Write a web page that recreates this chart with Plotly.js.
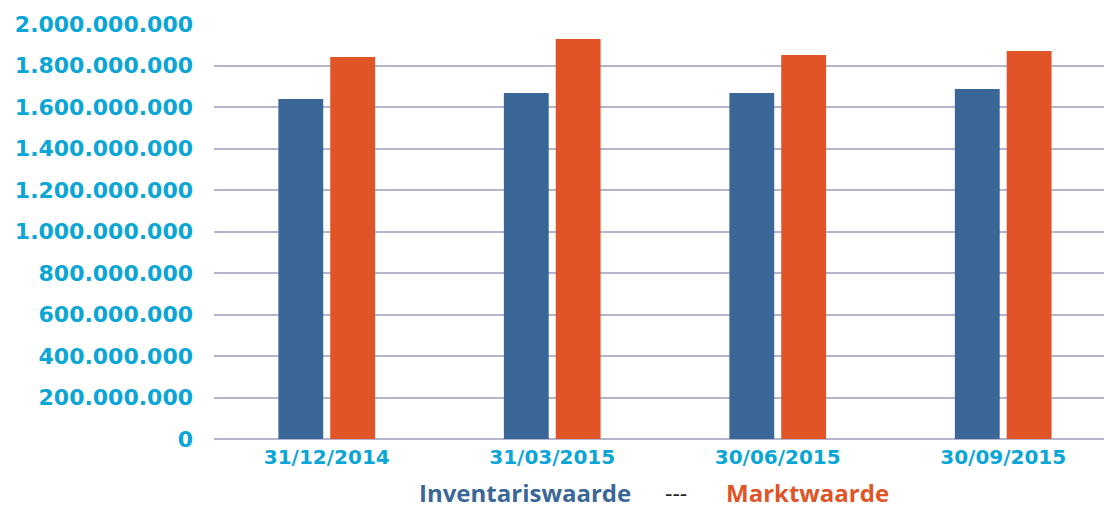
<!DOCTYPE html>
<html>
<head>
<meta charset="utf-8">
<script src="https://cdn.plot.ly/plotly-3.0.1.min.js"></script>
<style>
html,body{margin:0;padding:0;background:#fff;}
#chart{width:1104px;height:510px;}
</style>
</head>
<body>
<div id="chart"></div>
<script>
const categories = ["31/12/2014", "31/03/2015", "30/06/2015", "30/09/2015"];
const inventariswaarde = [1638000000, 1667000000, 1667000000, 1687000000];
const marktwaarde = [1841000000, 1928000000, 1851000000, 1870000000];
const seriesNames = ["Inventariswaarde", "Marktwaarde"];
const legendSeparator = "---";

const blue = "#3b6698";
const orange = "#e05427";
const tickColor = "#0ba6d6";
const gridColor = "#b4b4cc";

const traces = [
  {type: "bar", name: seriesNames[0], x: categories, y: inventariswaarde,
   marker: {color: blue}, hoverinfo: "none"},
  {type: "bar", name: seriesNames[1], x: categories, y: marktwaarde,
   marker: {color: orange}, hoverinfo: "none"}
];

const legendFont = {family: "Open Sans", size: 24, weight: "bold"};
const legendY = -0.1705;

const layout = {
  width: 1104, height: 510,
  margin: {l: 214, r: 0, t: 24, b: 71, pad: 0},
  paper_bgcolor: "#ffffff", plot_bgcolor: "#ffffff",
  separators: ",.",
  showlegend: false,
  barmode: "group",
  bargap: 0.54,
  bargroupgap: 0.135,
  xaxis: {
    type: "category",
    range: [-0.5, 3.447],
    showgrid: false, zeroline: false, showline: false,
    ticks: "", ticklabelstandoff: 4,
    tickfont: {family: "DejaVu Sans", size: 20, color: tickColor, weight: "bold"}
  },
  yaxis: {
    range: [0, 2000000000],
    dtick: 200000000, tick0: 0,
    tickformat: ",d",
    showgrid: true, gridcolor: gridColor, gridwidth: 2,
    zeroline: true, zerolinecolor: gridColor, zerolinewidth: 2,
    showline: false, ticks: "", ticklabelstandoff: 20,
    tickfont: {family: "DejaVu Sans", size: 22, color: tickColor, weight: "bold"}
  },
  annotations: [
    {xref: "paper", yref: "paper", x: 0.3489, y: legendY, xanchor: "center", yanchor: "bottom",
     borderpad: 0, text: seriesNames[0], showarrow: false,
     font: Object.assign({color: blue}, legendFont)},
    {xref: "paper", yref: "paper", x: 0.5191, y: legendY, xanchor: "center", yanchor: "bottom",
     borderpad: 0, text: legendSeparator, showarrow: false,
     font: {family: "Open Sans", size: 23, color: "#222222"}},
    {xref: "paper", yref: "paper", x: 0.6669, y: legendY, xanchor: "center", yanchor: "bottom",
     borderpad: 0, text: seriesNames[1], showarrow: false,
     font: Object.assign({color: orange}, legendFont)}
  ]
};

Plotly.newPlot("chart", traces, layout, {displayModeBar: false, staticPlot: true});
</script>
</body>
</html>
